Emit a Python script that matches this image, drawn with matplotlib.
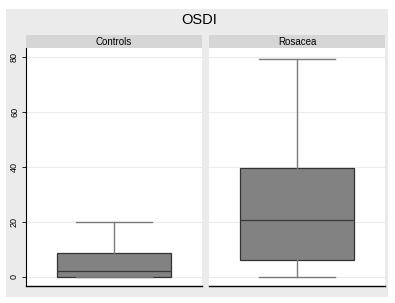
import matplotlib
matplotlib.use("Agg")
import matplotlib.pyplot as plt

plt.rcParams['font.family'] = ['Liberation Sans', 'DejaVu Sans']

groups = ['Controls', 'Rosacea']
whislo = [0.0, 0.0]
q1 = [0.0, 6.2]
med = [2.2, 20.7]
q3 = [8.7, 39.6]
whishi = [20.0, 79.3]
yticks = [0, 20, 40, 60, 80]

W, H = 395, 303
fig = plt.figure(figsize=(W / 100, H / 100), dpi=100)
fig.patch.set_facecolor('white')

def box(x0, y0, x1, y1):
    # pixel coords (top-left origin) -> figure fraction
    return [x0 / W, 1 - y1 / H, (x1 - x0) / W, (y1 - y0) / H]

# outer gray frame
bg = fig.add_axes(box(6, 9, 388, 297))
bg.set_facecolor('#ebebeb')
bg.set_xticks([])
bg.set_yticks([])
for s in bg.spines.values():
    s.set_visible(False)
bg.text(0.507, 0.963, 'OSDI', ha='center', va='center', fontsize=10.5,
        transform=bg.transAxes)

panels = [(26, 202), (209, 385)]
for i, (x0, x1) in enumerate(panels):
    ax = fig.add_axes(box(x0, 48, x1, 286))
    ax.set_facecolor('white')
    ax.set_ylim(-3.3, 83.3)
    ax.set_xlim(0, 1)
    for y in yticks:
        ax.axhline(y, color='#ebebeb', linewidth=0.8, zorder=0)
    st = [dict(whislo=whislo[i], q1=q1[i], med=med[i], q3=q3[i], whishi=whishi[i], fliers=[])]
    ax.bxp(st, positions=[0.5], widths=[0.645], patch_artist=True, showfliers=False,
           boxprops=dict(facecolor='#828282', edgecolor='#333333', linewidth=0.9),
           medianprops=dict(color='#3a3a3a', linewidth=0.9),
           whiskerprops=dict(color='#7a7a7a', linewidth=1.0),
           capprops=dict(color='#7a7a7a', linewidth=1.0), capwidths=[0.43])
    ax.set_xticks([])
    for s in ['top', 'right']:
        ax.spines[s].set_visible(False)
    ax.spines['bottom'].set_color('black')
    ax.spines['bottom'].set_linewidth(1.0)
    if i == 0:
        ax.spines['left'].set_color('black')
        ax.spines['left'].set_linewidth(0.8)
        ax.set_yticks(yticks)
        ax.set_yticklabels([str(v) for v in yticks], rotation=90, va='center', fontsize=6.5)
        ax.tick_params(axis='y', length=3, width=0.6, pad=2)
    else:
        ax.spines['left'].set_visible(False)
        ax.set_yticks([])
    # strip header
    sax = fig.add_axes(box(x0, 35, x1, 48))
    sax.set_facecolor('#d6d6d6')
    sax.set_xticks([])
    sax.set_yticks([])
    for s in sax.spines.values():
        s.set_visible(False)
    sax.text(0.5, 0.45, groups[i], ha='center', va='center', fontsize=7,
             transform=sax.transAxes)

fig.savefig('out.png', dpi=100)
